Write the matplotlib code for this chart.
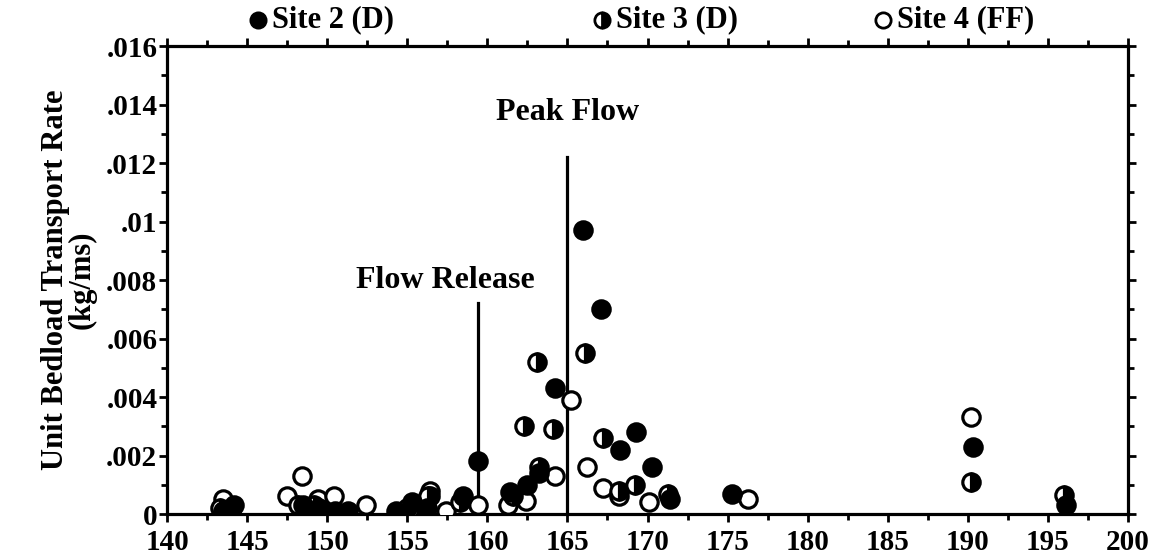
import numpy as np
import matplotlib.pyplot as plt
from matplotlib.ticker import MultipleLocator

plt.rcParams['font.family'] = ['Liberation Serif', 'DejaVu Serif']
plt.rcParams['font.weight'] = 'bold'
plt.rcParams['axes.labelweight'] = 'bold'

# Site 2 (D) - filled
site2_day = [143.5, 144.2, 148.5, 149.5, 150.5, 151.3, 154.3, 155.3, 156.2, 158.5,
             159.4, 161.4, 162.5, 163.2, 164.2, 166.0, 167.1, 168.3, 169.3, 170.3,
             171.4, 175.3, 190.3, 196.1]
site2_rate = [0.0001, 0.0003, 0.0003, 0.0002, 0.0001, 0.0001, 0.0001, 0.0004, 0.0002, 0.0006,
              0.0018, 0.00075, 0.0010, 0.0014, 0.0043, 0.0097, 0.0070, 0.0022, 0.0028, 0.0016,
              0.0005, 0.0007, 0.0023, 0.0003]

# Site 3 (D) - half filled
site3_day = [143.3, 144.0, 148.2, 149.2, 155.0, 156.3, 158.3, 161.6, 162.3, 163.1,
             163.2, 164.1, 166.1, 167.2, 168.2, 169.2, 171.3, 190.2, 196.0]
site3_rate = [0.0002, 0.0001, 0.0003, 0.0003, 0.0002, 0.0006, 0.0004, 0.0006, 0.0030, 0.0052,
              0.0016, 0.0029, 0.0055, 0.0026, 0.0008, 0.0010, 0.0007, 0.0011, 0.00065]

# Site 4 (FF) - open
site4_day = [143.5, 144.0, 147.5, 148.4, 149.4, 150.4, 152.4, 155.1, 156.4, 156.4,
             157.4, 159.4, 161.3, 162.4, 164.2, 165.2, 166.2, 167.2, 168.2, 170.1,
             176.3, 190.2]
site4_rate = [0.0005, 0.0001, 0.0006, 0.0013, 0.0005, 0.0006, 0.0003, 0.0001, 0.0008, 0.0006,
              0.0001, 0.0003, 0.0003, 0.00045, 0.0013, 0.0039, 0.0016, 0.0009, 0.0006, 0.0004,
              0.0005, 0.0033]

release_day, release_top = 159.4, 0.0072
peak_day, peak_top = 165.0, 0.0122

fig = plt.figure(figsize=(11.56, 5.59), dpi=100)
ax = fig.add_axes([0.1445, 0.0805, 0.8313, 0.8372])

ms = 12.5
mew = 2.3
ax.plot(site4_day, site4_rate, 'o', ms=ms, mfc='white', mec='black', mew=mew, ls='none', zorder=3)
ax.plot(site3_day, site3_rate, 'o', ms=ms, fillstyle='right', mfc='black', mfcalt='white',
        mec='black', mew=mew, ls='none', zorder=4)
ax.plot(site2_day, site2_rate, 'o', ms=ms, mfc='black', mec='black', mew=mew, ls='none', zorder=5)

# event lines
ax.plot([release_day, release_day], [0, release_top], color='black', lw=2.3, zorder=2)
ax.plot([peak_day, peak_day], [0, peak_top], color='black', lw=2.3, zorder=2)
ax.text(157.35, 0.0080, 'Flow Release', ha='center', va='center', fontsize=23)
ax.text(165.0, 0.01374, 'Peak Flow', ha='center', va='center', fontsize=23)

ax.set_xlim(140, 200)
ax.set_ylim(0, 0.016)
ax.xaxis.set_major_locator(MultipleLocator(5))
ax.xaxis.set_minor_locator(MultipleLocator(2.5))
ax.yaxis.set_minor_locator(MultipleLocator(0.001))
ylabels = ['0', '.002', '.004', '.006', '.008', '.01', '.012', '.014', '.016']
ax.set_yticks(np.arange(0, 0.0161, 0.002))
ax.set_yticklabels(ylabels)

for s in ax.spines.values():
    s.set_linewidth(2.3)
ax.tick_params(which='both', direction='out', width=2, labelsize=21, top=True, right=True,
               labeltop=False, labelright=False)
ax.tick_params(which='major', length=6)
ax.tick_params(which='minor', length=4)
ax.tick_params(axis='y', pad=1)
ax.tick_params(axis='x', pad=5)

ax.set_ylabel('Unit Bedload Transport Rate\n(kg/ms)', fontsize=22, linespacing=0.92)
ax.yaxis.set_label_coords(-0.073, 0.5)

# legend row above the plot
leg_x = [0.0947, 0.4527, 0.745]
leg_text = ['Site 2 (D)', 'Site 3 (D)', 'Site 4 (FF)']
leg_y = 1.056
ax.plot(leg_x[0], leg_y, 'o', transform=ax.transAxes, clip_on=False, ms=11, mfc='black', mec='black', mew=2)
ax.plot(leg_x[1], leg_y, 'o', transform=ax.transAxes, clip_on=False, ms=11, fillstyle='right',
        mfc='black', mfcalt='white', mec='black', mew=2)
ax.plot(leg_x[2], leg_y, 'o', transform=ax.transAxes, clip_on=False, ms=11, mfc='white', mec='black', mew=2)
for lx, t in zip(leg_x, leg_text):
    ax.text(lx + 0.0146, leg_y, t, transform=ax.transAxes, ha='left', va='center', fontsize=22)

fig.savefig('out.png', dpi=100)
